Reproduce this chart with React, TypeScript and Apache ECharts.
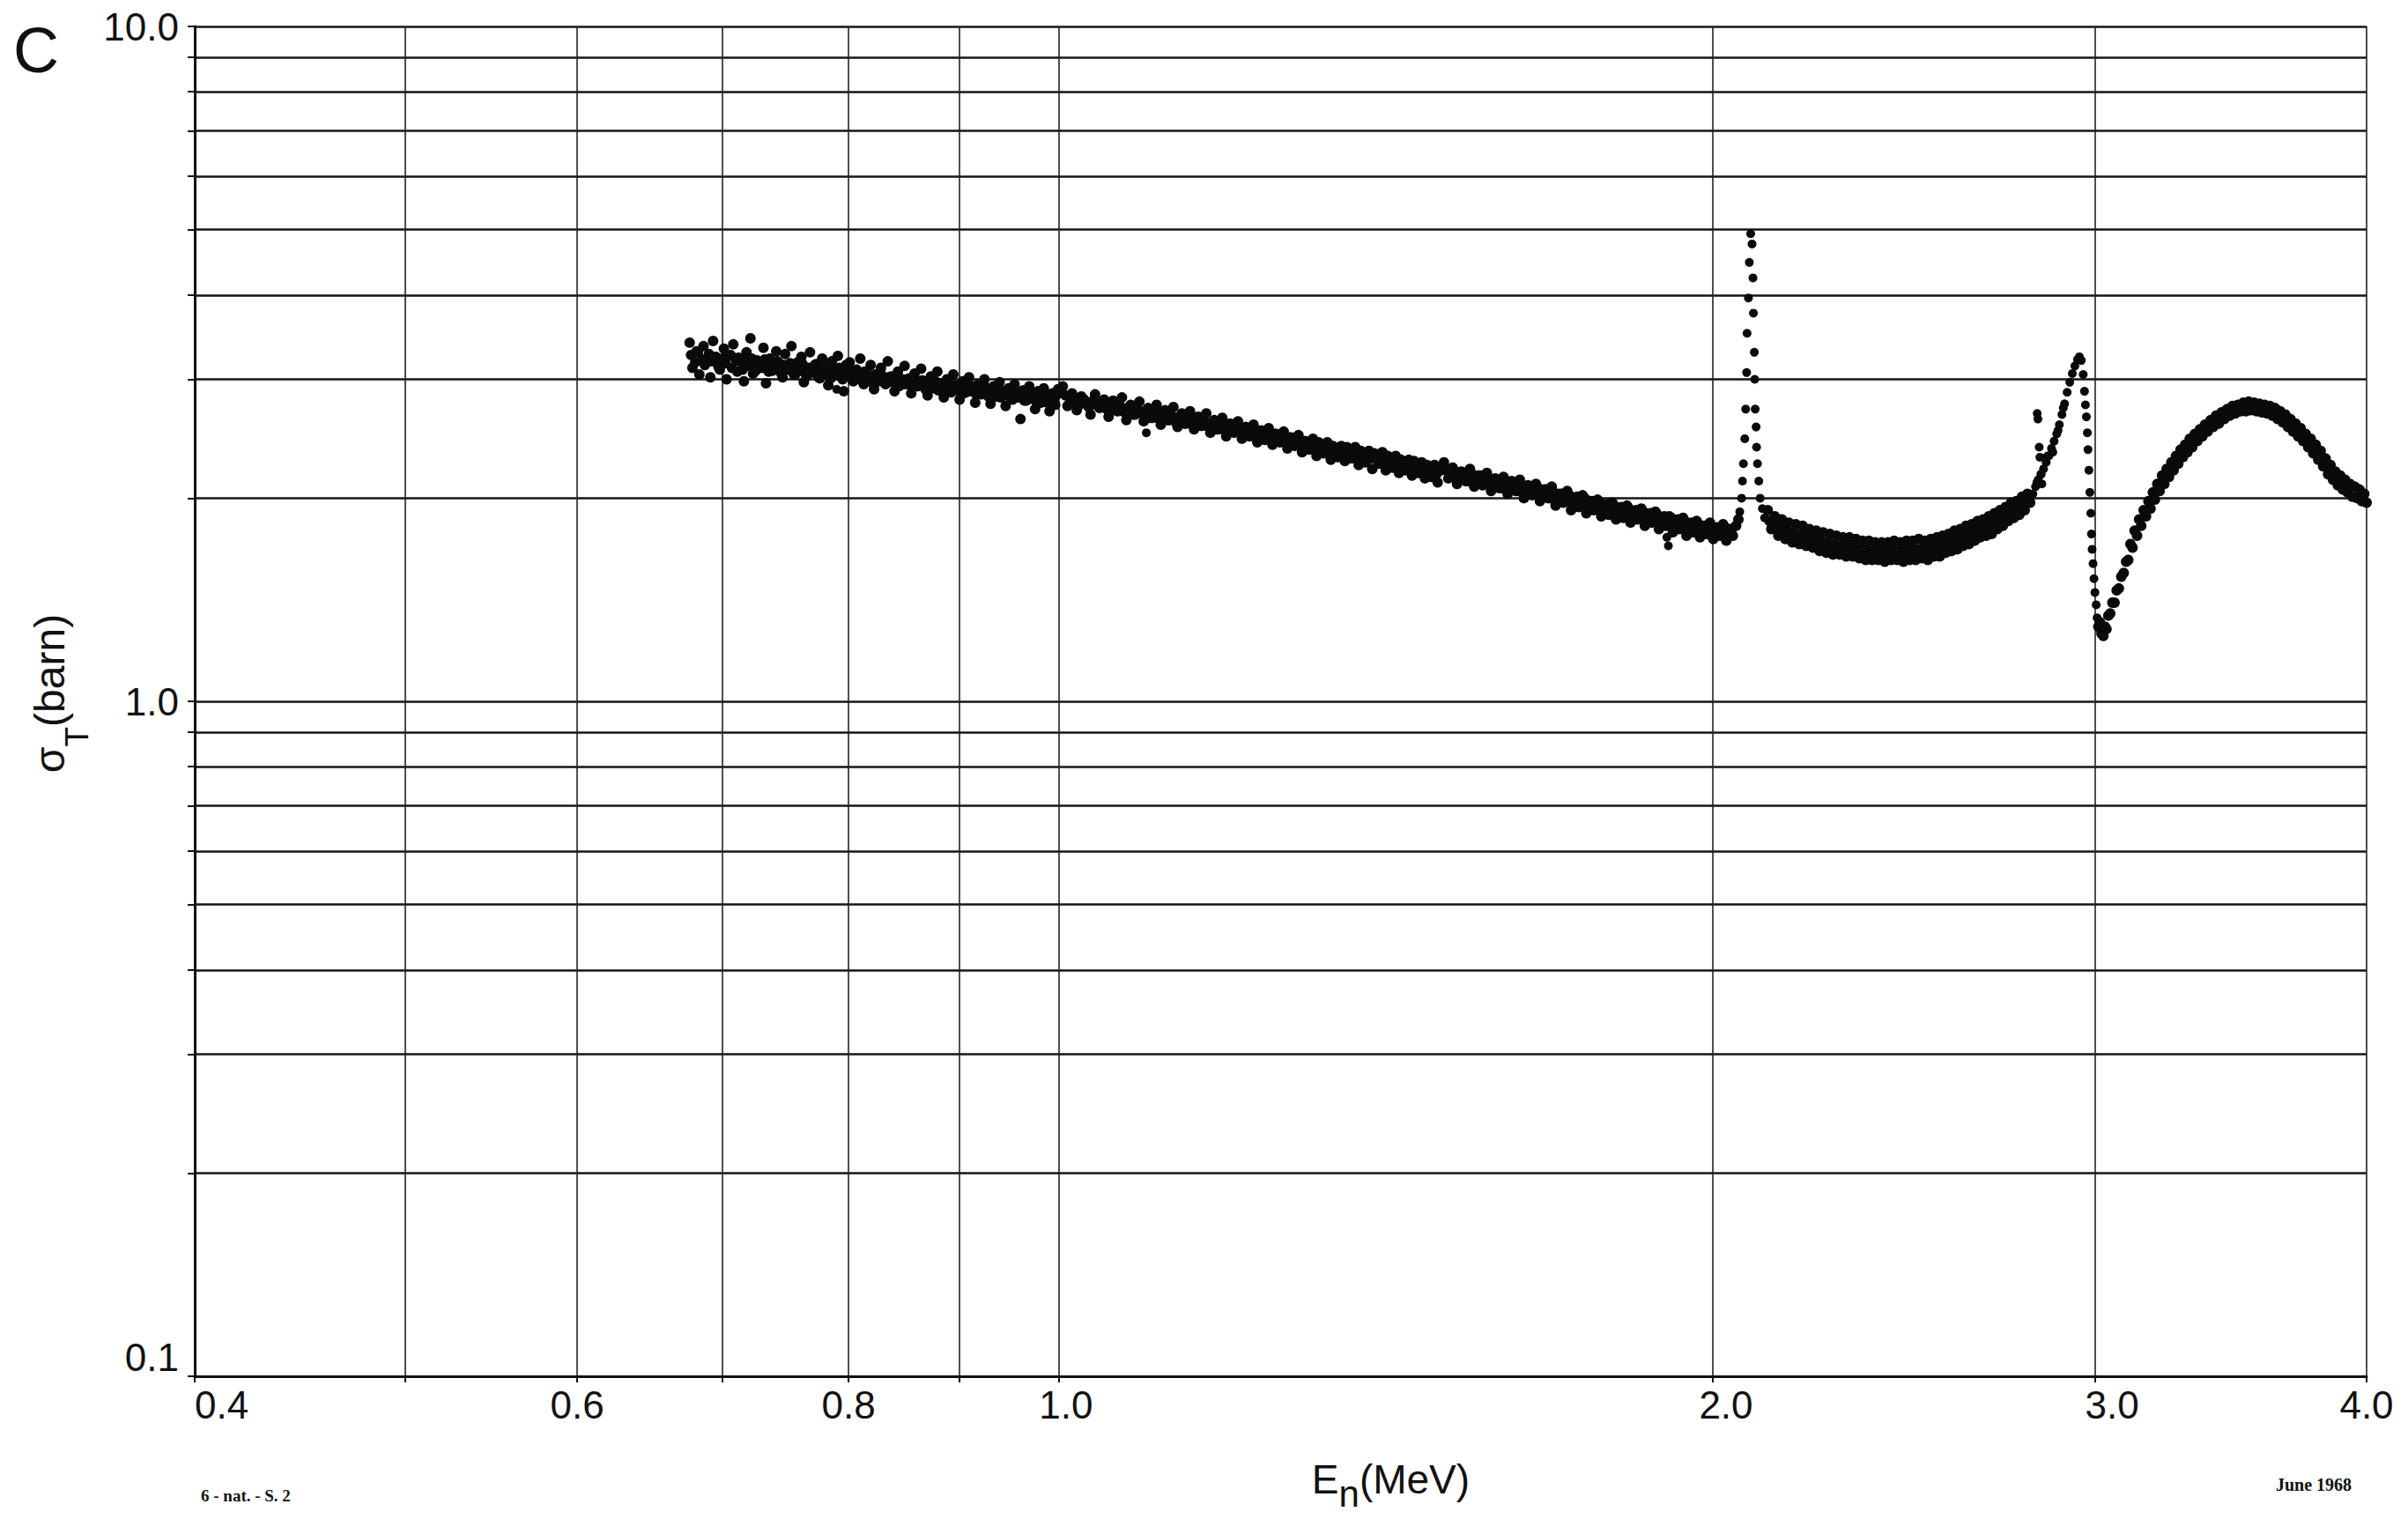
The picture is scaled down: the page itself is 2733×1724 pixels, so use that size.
import React, { useEffect, useRef } from "react";
import * as echarts from "echarts";

// ---- axis values ----
const xGridValues = [0.4, 0.5, 0.6, 0.7, 0.8, 0.9, 1, 2, 3, 4];
const xLabelValues = [0.4, 0.6, 0.8, 1, 2, 3, 4];
const yGridValues = [0.1, 0.2, 0.3, 0.4, 0.5, 0.6, 0.7, 0.8, 0.9, 1, 2, 3, 4, 5, 6, 7, 8, 9, 10];
const yLabelValues = [0.1, 1, 10];

// ---- data: E_n (MeV) and sigma_T (barn) ----
// band 0.68 - 1.0 MeV (outer points of the scattered band)
const e1 = [
  0.676, 0.678, 0.681, 0.683, 0.686, 0.688, 0.691, 0.693, 0.696, 0.698, 0.701, 0.703, 0.706, 0.708, 0.711, 0.713,
  0.716, 0.718, 0.721, 0.723, 0.726, 0.728, 0.731, 0.733, 0.736, 0.738, 0.741, 0.743, 0.746, 0.748, 0.751, 0.753,
  0.756, 0.758, 0.761, 0.763, 0.766, 0.768, 0.771, 0.773, 0.776, 0.778, 0.781, 0.783, 0.786, 0.788, 0.791, 0.793,
  0.796, 0.798, 0.801, 0.804, 0.807, 0.81, 0.813, 0.816, 0.819, 0.822, 0.825, 0.828, 0.831, 0.834, 0.837, 0.84,
  0.843, 0.846, 0.849, 0.852, 0.855, 0.858, 0.861, 0.864, 0.867, 0.87, 0.873, 0.876, 0.879, 0.882, 0.885, 0.888,
  0.891, 0.894, 0.897, 0.9, 0.903, 0.906, 0.909, 0.912, 0.915, 0.918, 0.921, 0.924, 0.927, 0.93, 0.933, 0.936,
  0.939, 0.942, 0.945, 0.948, 0.951, 0.954, 0.957, 0.96, 0.963, 0.966, 0.969, 0.972, 0.975, 0.978, 0.981, 0.984,
  0.987, 0.99, 0.993, 0.996, 0.999,
];
const s1 = [
  3.4, 3.12, 3.3, 3.05, 3.36, 3.18, 3.02, 3.42, 3.21, 3.1, 3.33, 3.0, 3.26, 3.38, 3.08, 3.19,
  2.98, 3.29, 3.45, 3.06, 3.2, 3.14, 3.34, 2.96, 3.22, 3.09, 3.3, 3.17, 3.02, 3.27, 3.13, 3.36,
  3.05, 3.18, 3.24, 2.97, 3.11, 3.29, 3.08, 3.16, 3.01, 3.22, 3.12, 2.94, 3.19, 3.06, 3.25, 3.1,
  2.88, 3.15, 3.18, 2.98, 3.1, 3.22, 2.95, 3.06, 3.15, 2.9, 3.01, 3.12, 2.97, 3.19, 3.03, 2.88,
  3.08, 2.95, 3.14, 3.0, 2.86, 3.06, 2.93, 3.11, 2.98, 2.84, 3.03, 2.91, 3.08, 2.96, 2.82, 3.0,
  2.89, 3.05, 2.93, 2.8, 2.98, 2.87, 3.02, 2.91, 2.77, 2.95, 2.85, 3.0, 2.88, 2.76, 2.93, 2.83,
  2.97, 2.86, 2.74, 2.91, 2.81, 2.95, 2.84, 2.62, 2.89, 2.79, 2.93, 2.82, 2.71, 2.88, 2.77, 2.91,
  2.8, 2.69, 2.86, 2.75, 2.9,
];
// band 0.68 - 1.0 MeV (inner points)
const e1m = [
  0.677, 0.68, 0.682, 0.685, 0.687, 0.69, 0.692, 0.695, 0.697, 0.7, 0.702, 0.705, 0.707, 0.71, 0.712, 0.715,
  0.717, 0.72, 0.722, 0.725, 0.727, 0.73, 0.732, 0.735, 0.737, 0.74, 0.742, 0.745, 0.747, 0.75, 0.752, 0.755,
  0.757, 0.76, 0.762, 0.765, 0.767, 0.77, 0.772, 0.775, 0.777, 0.78, 0.782, 0.785, 0.787, 0.79, 0.792, 0.795,
  0.797, 0.8, 0.802, 0.805, 0.808, 0.811, 0.814, 0.817, 0.82, 0.823, 0.826, 0.829, 0.832, 0.835, 0.838, 0.841,
  0.844, 0.847, 0.85, 0.853, 0.856, 0.859, 0.862, 0.865, 0.868, 0.871, 0.874, 0.877, 0.88, 0.883, 0.886, 0.889,
  0.892, 0.895, 0.898, 0.901, 0.904, 0.907, 0.91, 0.913, 0.916, 0.919, 0.922, 0.925, 0.928, 0.931, 0.934, 0.937,
  0.94, 0.943, 0.946, 0.949, 0.952, 0.955, 0.958, 0.961, 0.964, 0.967, 0.97, 0.973, 0.976, 0.979, 0.982, 0.985,
  0.988, 0.991, 0.994, 0.997,
];
const s1m = [
  3.26, 3.18, 3.29, 3.21, 3.15, 3.27, 3.19, 3.24, 3.13, 3.22, 3.17, 3.25, 3.12, 3.2, 3.23, 3.1,
  3.19, 3.14, 3.22, 3.09, 3.18, 3.12, 3.21, 3.08, 3.16, 3.11, 3.19, 3.06, 3.15, 3.1, 3.17, 3.05,
  3.13, 3.09, 3.16, 3.03, 3.12, 3.07, 3.15, 3.02, 3.11, 3.06, 3.13, 3.01, 3.09, 3.04, 3.12, 3.0,
  3.08, 3.03, 3.1, 3.02, 3.07, 2.99, 3.08, 3.01, 2.97, 3.05, 2.98, 3.04, 2.95, 3.02, 2.97, 3.03,
  2.93, 3.0, 2.95, 3.01, 2.92, 2.98, 2.94, 2.99, 2.9, 2.97, 2.92, 2.98, 2.89, 2.95, 2.91, 2.96,
  2.87, 2.94, 2.89, 2.95, 2.86, 2.92, 2.88, 2.93, 2.85, 2.91, 2.86, 2.92, 2.83, 2.89, 2.85, 2.9,
  2.82, 2.88, 2.84, 2.89, 2.8, 2.87, 2.82, 2.88, 2.79, 2.85, 2.81, 2.86, 2.78, 2.84, 2.8, 2.85,
  2.77, 2.83, 2.79, 2.84,
];
// band 1.0 - 2.05 MeV (outer points)
const e2 = [
  1.004, 1.009, 1.014, 1.019, 1.024, 1.029, 1.034, 1.039, 1.044, 1.049, 1.054, 1.059, 1.064, 1.069, 1.074, 1.079,
  1.084, 1.089, 1.094, 1.099, 1.104, 1.109, 1.114, 1.119, 1.124, 1.129, 1.134, 1.139, 1.144, 1.149, 1.154, 1.159,
  1.164, 1.169, 1.174, 1.179, 1.184, 1.189, 1.194, 1.199, 1.204, 1.209, 1.214, 1.219, 1.224, 1.229, 1.234, 1.239,
  1.244, 1.249, 1.254, 1.259, 1.264, 1.269, 1.274, 1.279, 1.284, 1.289, 1.294, 1.299, 1.304, 1.309, 1.314, 1.319,
  1.324, 1.329, 1.334, 1.339, 1.344, 1.349, 1.354, 1.359, 1.364, 1.369, 1.374, 1.379, 1.384, 1.389, 1.394, 1.399,
  1.404, 1.409, 1.414, 1.419, 1.424, 1.429, 1.434, 1.439, 1.444, 1.449, 1.454, 1.459, 1.464, 1.469, 1.474, 1.479,
  1.484, 1.489, 1.494, 1.499, 1.504, 1.511, 1.518, 1.525, 1.532, 1.539, 1.546, 1.553, 1.56, 1.567, 1.574, 1.581,
  1.588, 1.595, 1.602, 1.609, 1.616, 1.623, 1.63, 1.637, 1.644, 1.651, 1.658, 1.665, 1.672, 1.679, 1.686, 1.693,
  1.7, 1.707, 1.714, 1.721, 1.728, 1.735, 1.742, 1.749, 1.756, 1.763, 1.77, 1.777, 1.784, 1.791, 1.798, 1.805,
  1.812, 1.819, 1.826, 1.833, 1.84, 1.847, 1.854, 1.861, 1.868, 1.875, 1.882, 1.889, 1.896, 1.903, 1.91, 1.917,
  1.924, 1.931, 1.938, 1.945, 1.952, 1.959, 1.966, 1.973, 1.98, 1.987, 1.994, 2.001, 2.008, 2.015, 2.022, 2.029,
  2.036, 2.043, 2.05, 2.055,
];
const s2 = [
  2.93, 2.74, 2.86, 2.7, 2.83, 2.77, 2.66, 2.85, 2.72, 2.8, 2.64, 2.79, 2.69, 2.82, 2.61, 2.75,
  2.66, 2.78, 2.6, 2.72, 2.63, 2.75, 2.57, 2.7, 2.61, 2.73, 2.55, 2.67, 2.58, 2.69, 2.53, 2.64,
  2.56, 2.67, 2.5, 2.61, 2.53, 2.63, 2.47, 2.58, 2.5, 2.6, 2.45, 2.55, 2.47, 2.57, 2.42, 2.52,
  2.44, 2.54, 2.4, 2.49, 2.42, 2.51, 2.37, 2.46, 2.39, 2.48, 2.34, 2.43, 2.36, 2.45, 2.31, 2.4,
  2.33, 2.42, 2.28, 2.37, 2.3, 2.39, 2.27, 2.36, 2.29, 2.38, 2.24, 2.33, 2.26, 2.35, 2.21, 2.3,
  2.25, 2.34, 2.2, 2.29, 2.22, 2.31, 2.18, 2.26, 2.2, 2.28, 2.16, 2.25, 2.18, 2.26, 2.14, 2.22,
  2.15, 2.24, 2.11, 2.2, 2.26, 2.14, 2.22, 2.1, 2.19, 2.12, 2.21, 2.08, 2.16, 2.09, 2.18, 2.05,
  2.14, 2.07, 2.15, 2.03, 2.12, 2.05, 2.13, 2.0, 2.09, 2.02, 2.1, 1.98, 2.06, 2.0, 2.08, 1.95,
  2.03, 1.97, 2.05, 1.92, 2.0, 1.94, 2.02, 1.9, 1.98, 1.92, 1.99, 1.88, 1.95, 1.89, 1.97, 1.86,
  1.93, 1.87, 1.95, 1.84, 1.91, 1.86, 1.93, 1.82, 1.89, 1.84, 1.91, 1.8, 1.87, 1.82, 1.88, 1.78,
  1.85, 1.8, 1.87, 1.76, 1.83, 1.78, 1.85, 1.75, 1.82, 1.77, 1.84, 1.74, 1.81, 1.76, 1.83, 1.73,
  1.8, 1.76, 1.82, 1.86,
];
// band 1.0 - 2.05 MeV (inner points)
const e2m = [
  1.007, 1.012, 1.017, 1.022, 1.027, 1.032, 1.037, 1.042, 1.047, 1.052, 1.057, 1.062, 1.067, 1.072, 1.077, 1.082,
  1.087, 1.092, 1.097, 1.102, 1.107, 1.112, 1.117, 1.122, 1.127, 1.132, 1.137, 1.142, 1.147, 1.152, 1.157, 1.162,
  1.167, 1.172, 1.177, 1.182, 1.187, 1.192, 1.197, 1.202, 1.207, 1.212, 1.217, 1.222, 1.227, 1.232, 1.237, 1.242,
  1.247, 1.252, 1.257, 1.262, 1.267, 1.272, 1.277, 1.282, 1.287, 1.292, 1.297, 1.302, 1.307, 1.312, 1.317, 1.322,
  1.327, 1.332, 1.337, 1.342, 1.347, 1.352, 1.357, 1.362, 1.367, 1.372, 1.377, 1.382, 1.387, 1.392, 1.397, 1.402,
  1.407, 1.412, 1.417, 1.422, 1.427, 1.432, 1.437, 1.442, 1.447, 1.452, 1.457, 1.462, 1.467, 1.472, 1.477, 1.482,
  1.487, 1.492, 1.497, 1.508, 1.515, 1.522, 1.529, 1.536, 1.543, 1.55, 1.557, 1.564, 1.571, 1.578, 1.585, 1.592,
  1.599, 1.606, 1.613, 1.62, 1.627, 1.634, 1.641, 1.648, 1.655, 1.662, 1.669, 1.676, 1.683, 1.69, 1.697, 1.704,
  1.711, 1.718, 1.725, 1.732, 1.739, 1.746, 1.753, 1.76, 1.767, 1.774, 1.781, 1.788, 1.795, 1.802, 1.809, 1.816,
  1.823, 1.83, 1.837, 1.844, 1.851, 1.858, 1.865, 1.872, 1.879, 1.886, 1.893, 1.9, 1.907, 1.914, 1.921, 1.928,
  1.935, 1.942, 1.949, 1.956, 1.963, 1.97, 1.977, 1.984, 1.991, 1.998, 2.005, 2.012, 2.019, 2.026, 2.033, 2.04,
];
const s2m = [
  2.84, 2.77, 2.82, 2.75, 2.8, 2.73, 2.79, 2.74, 2.78, 2.71, 2.76, 2.7, 2.74, 2.68, 2.73, 2.66,
  2.71, 2.67, 2.7, 2.63, 2.69, 2.62, 2.67, 2.61, 2.65, 2.59, 2.64, 2.58, 2.63, 2.57, 2.62, 2.56,
  2.6, 2.55, 2.59, 2.53, 2.57, 2.52, 2.56, 2.51, 2.56, 2.5, 2.54, 2.48, 2.53, 2.47, 2.51, 2.46,
  2.5, 2.45, 2.49, 2.44, 2.48, 2.42, 2.46, 2.4, 2.45, 2.39, 2.43, 2.38, 2.43, 2.38, 2.42, 2.36,
  2.4, 2.35, 2.39, 2.34, 2.38, 2.33, 2.38, 2.33, 2.37, 2.31, 2.35, 2.3, 2.34, 2.29, 2.33, 2.28,
  2.33, 2.27, 2.31, 2.26, 2.3, 2.24, 2.28, 2.23, 2.27, 2.22, 2.27, 2.21, 2.25, 2.2, 2.24, 2.18,
  2.22, 2.17, 2.21, 2.2, 2.15, 2.19, 2.13, 2.18, 2.12, 2.17, 2.11, 2.16, 2.1, 2.14, 2.09, 2.13,
  2.07, 2.12, 2.06, 2.1, 2.05, 2.09, 2.04, 2.08, 2.03, 2.07, 2.01, 2.06, 2.0, 2.04, 1.99, 2.03,
  1.98, 2.02, 1.97, 2.01, 1.96, 2.0, 1.94, 1.98, 1.93, 1.97, 1.92, 1.96, 1.92, 1.95, 1.9, 1.94,
  1.89, 1.93, 1.88, 1.92, 1.87, 1.91, 1.87, 1.9, 1.85, 1.89, 1.84, 1.88, 1.83, 1.87, 1.82, 1.86,
  1.82, 1.85, 1.8, 1.84, 1.79, 1.83, 1.78, 1.82, 1.77, 1.81, 1.77, 1.8, 1.76, 1.81, 1.77, 1.8,
];
// narrow resonance near 2.08 MeV
const ePeak1 = [
  2.058, 2.062, 2.064, 2.066, 2.069, 2.071, 2.073, 2.074, 2.077, 2.079, 2.082, 2.085, 2.087, 2.088, 2.09, 2.091,
  2.092, 2.094, 2.095, 2.097, 2.1, 2.103, 2.108, 2.113,
];
const sPeak1 = [
  1.91, 2.0, 2.12, 2.25, 2.45, 2.71, 3.07, 3.51, 3.96, 4.47, 4.93, 4.76, 4.24, 3.76, 3.29, 3.0,
  2.71, 2.55, 2.38, 2.25, 2.12, 2.0, 1.93, 1.87,
];
// valley 2.12 - 2.80 MeV (outer points)
const eValley = [
  2.12, 2.128, 2.136, 2.144, 2.152, 2.16, 2.168, 2.176, 2.184, 2.192, 2.2, 2.208, 2.216, 2.224, 2.232, 2.24,
  2.248, 2.256, 2.264, 2.272, 2.28, 2.288, 2.296, 2.304, 2.312, 2.32, 2.328, 2.336, 2.344, 2.352, 2.36, 2.368,
  2.376, 2.384, 2.392, 2.4, 2.408, 2.416, 2.424, 2.432, 2.44, 2.448, 2.456, 2.464, 2.472, 2.48, 2.488, 2.496,
  2.504, 2.512, 2.52, 2.528, 2.536, 2.544, 2.552, 2.56, 2.568, 2.576, 2.584, 2.592, 2.6, 2.608, 2.616, 2.624,
  2.632, 2.64, 2.648, 2.656, 2.664, 2.672, 2.68, 2.688, 2.696, 2.704, 2.712, 2.72, 2.728, 2.736, 2.744, 2.752,
  2.76, 2.768, 2.776, 2.784, 2.792, 2.8,
];
const sValley = [
  1.92, 1.8, 1.88, 1.76, 1.86, 1.74, 1.84, 1.72, 1.83, 1.71, 1.82, 1.7, 1.8, 1.69, 1.79, 1.67,
  1.78, 1.66, 1.77, 1.65, 1.76, 1.65, 1.75, 1.64, 1.75, 1.64, 1.74, 1.63, 1.73, 1.62, 1.73, 1.62,
  1.72, 1.62, 1.72, 1.61, 1.72, 1.62, 1.73, 1.62, 1.72, 1.61, 1.73, 1.62, 1.73, 1.62, 1.74, 1.63,
  1.73, 1.62, 1.74, 1.64, 1.75, 1.64, 1.76, 1.66, 1.77, 1.67, 1.79, 1.68, 1.8, 1.7, 1.82, 1.71,
  1.83, 1.73, 1.85, 1.75, 1.86, 1.76, 1.88, 1.77, 1.9, 1.8, 1.92, 1.82, 1.94, 1.85, 1.97, 1.87,
  1.98, 1.89, 2.01, 1.92, 2.03, 1.97,
];
// valley 2.12 - 2.80 MeV (inner points)
const eValleyM = [
  2.124, 2.132, 2.14, 2.148, 2.156, 2.164, 2.172, 2.18, 2.188, 2.196, 2.204, 2.212, 2.22, 2.228, 2.236, 2.244,
  2.252, 2.26, 2.268, 2.276, 2.284, 2.292, 2.3, 2.308, 2.316, 2.324, 2.332, 2.34, 2.348, 2.356, 2.364, 2.372,
  2.38, 2.388, 2.396, 2.404, 2.412, 2.42, 2.428, 2.436, 2.444, 2.452, 2.46, 2.468, 2.476, 2.484, 2.492, 2.5,
  2.508, 2.516, 2.524, 2.532, 2.54, 2.548, 2.556, 2.564, 2.572, 2.58, 2.588, 2.596, 2.604, 2.612, 2.62, 2.628,
  2.636, 2.644, 2.652, 2.66, 2.668, 2.676, 2.684, 2.692, 2.7, 2.708, 2.716, 2.724, 2.732, 2.74, 2.748, 2.756,
  2.764, 2.772, 2.78, 2.788, 2.796,
];
const sValleyM = [
  1.85, 1.84, 1.82, 1.81, 1.79, 1.79, 1.77, 1.78, 1.76, 1.77, 1.75, 1.76, 1.74, 1.74, 1.72, 1.73,
  1.71, 1.72, 1.7, 1.71, 1.69, 1.7, 1.69, 1.7, 1.68, 1.69, 1.67, 1.68, 1.67, 1.68, 1.66, 1.67,
  1.66, 1.68, 1.66, 1.67, 1.66, 1.68, 1.66, 1.67, 1.66, 1.68, 1.66, 1.68, 1.67, 1.68, 1.67, 1.69,
  1.67, 1.69, 1.68, 1.7, 1.69, 1.71, 1.7, 1.72, 1.71, 1.73, 1.73, 1.75, 1.74, 1.76, 1.76, 1.78,
  1.77, 1.79, 1.79, 1.81, 1.81, 1.83, 1.82, 1.84, 1.85, 1.86, 1.87, 1.88, 1.9, 1.91, 1.92, 1.93,
  1.94, 1.95, 1.97, 1.98, 2.0,
];
// resonance near 2.95 MeV: rise and sharp drop
const ePeak2 = [
  2.808, 2.816, 2.82, 2.824, 2.832, 2.84, 2.848, 2.852, 2.856, 2.864, 2.868, 2.872, 2.88, 2.884, 2.888, 2.896,
  2.9, 2.904, 2.912, 2.92, 2.928, 2.936, 2.944, 2.95, 2.956, 2.962, 2.966, 2.969, 2.972, 2.975, 2.977, 2.98,
  2.983, 2.986, 2.988, 2.99, 2.993, 2.996, 2.999, 3.003, 3.006,
];
const sPeak2 = [
  2.03, 2.08, 2.11, 2.13, 2.17, 2.21, 2.26, 2.31, 2.31, 2.37, 2.34, 2.43, 2.49, 2.52, 2.57, 2.66,
  2.72, 2.76, 2.87, 2.97, 3.06, 3.14, 3.21, 3.24, 3.2, 3.05, 2.88, 2.75, 2.64, 2.5, 2.36, 2.2,
  2.04, 1.9, 1.77, 1.68, 1.6, 1.52, 1.45, 1.39, 1.33,
];
// broad structure 3.0 - 4.0 MeV
const eHump = [
  3.01, 3.015, 3.02, 3.026, 3.031, 3.036, 3.042, 3.048, 3.055, 3.062, 3.069, 3.076, 3.084, 3.092, 3.1, 3.107,
  3.114, 3.121, 3.128, 3.136, 3.143, 3.15, 3.158, 3.166, 3.174, 3.181, 3.189, 3.196, 3.204, 3.212, 3.22, 3.228,
  3.236, 3.244, 3.252, 3.26, 3.268, 3.276, 3.284, 3.292, 3.3, 3.308, 3.316, 3.325, 3.334, 3.343, 3.352, 3.361,
  3.37, 3.38, 3.39, 3.4, 3.41, 3.42, 3.43, 3.44, 3.45, 3.46, 3.47, 3.48, 3.49, 3.5, 3.51, 3.52,
  3.53, 3.54, 3.55, 3.56, 3.57, 3.58, 3.59, 3.6, 3.61, 3.62, 3.63, 3.64, 3.65, 3.66, 3.67, 3.68,
  3.69, 3.7, 3.71, 3.72, 3.73, 3.74, 3.75, 3.76, 3.77, 3.78, 3.79, 3.8, 3.81, 3.82, 3.83, 3.84,
  3.85, 3.86, 3.87, 3.88, 3.89, 3.9, 3.91, 3.92, 3.93, 3.94, 3.95, 3.96, 3.97, 3.98, 3.99, 4.0,
];
const sHump = [
  1.29, 1.31, 1.26, 1.25, 1.29, 1.28, 1.34, 1.35, 1.4, 1.4, 1.46, 1.47, 1.53, 1.55, 1.61, 1.62,
  1.71, 1.69, 1.79, 1.76, 1.86, 1.82, 1.92, 1.88, 1.98, 1.93, 2.04, 1.99, 2.1, 2.05, 2.16, 2.1,
  2.21, 2.15, 2.26, 2.2, 2.31, 2.25, 2.36, 2.3, 2.4, 2.34, 2.45, 2.38, 2.49, 2.43, 2.53, 2.47,
  2.57, 2.51, 2.61, 2.55, 2.65, 2.58, 2.68, 2.62, 2.71, 2.65, 2.74, 2.67, 2.75, 2.69, 2.77, 2.69,
  2.78, 2.7, 2.77, 2.69, 2.76, 2.68, 2.75, 2.67, 2.74, 2.65, 2.72, 2.62, 2.69, 2.59, 2.66, 2.55,
  2.62, 2.51, 2.58, 2.47, 2.54, 2.43, 2.49, 2.38, 2.45, 2.33, 2.4, 2.28, 2.35, 2.23, 2.29, 2.17,
  2.24, 2.13, 2.19, 2.09, 2.16, 2.06, 2.13, 2.04, 2.1, 2.01, 2.08, 2.0, 2.06, 1.98, 2.03, 1.97,
];
// scattered points off the main band
const eStray = [0.79, 1.097, 1.905, 1.908, 2.821, 2.823, 2.827, 2.829, 2.833, 2.835];
const sStray = [2.9, 2.5, 1.75, 1.7, 2.67, 2.62, 2.38, 2.3, 2.17, 2.1];

const zip = (e: number[], s: number[]) => e.map((v, i) => [v, s[i]]);

const FONT = '"Liberation Sans", Arial, Helvetica, sans-serif';
const INK = "#111111";

// x tick labels sit slightly right of their grid lines on the original sheet
const xLabelKey = (v: number) => {
  const r = Math.round(v * 10) / 10;
  if (r === 1) return "b";
  if (r === 2) return "c";
  if (r === 3) return "d";
  return "a";
};
const xTickRich = {
  a: { fontFamily: FONT, fontSize: 44, color: INK },
  b: { fontFamily: FONT, fontSize: 44, color: INK, padding: [0, 0, 0, 16] },
  c: { fontFamily: FONT, fontSize: 44, color: INK, padding: [0, 0, 0, 30] },
  d: { fontFamily: FONT, fontSize: 44, color: INK, padding: [0, 0, 0, 38] },
};

const option: any = {
  animation: false,
  backgroundColor: "#ffffff",
  grid: { left: 221, right: 47, top: 30, bottom: 162, containLabel: false },
  xAxis: {
    type: "log",
    logBase: 10,
    min: 0.4,
    max: 4,
    name: "{e|E}{n|n}{e|(MeV)}",
    nameLocation: "middle",
    nameGap: 94,
    nameTextStyle: {
      padding: [0, 0, 0, 250],
      rich: {
        e: { fontFamily: FONT, fontSize: 46, color: INK, verticalAlign: "top" },
        n: { fontFamily: FONT, fontSize: 42, color: INK, verticalAlign: "top", padding: [18, 0, 0, 0] },
      },
    },
    axisLine: { show: true, onZero: false, lineStyle: { color: INK, width: 3 } },
    axisTick: { show: true, inside: false, length: 7, customValues: xGridValues, lineStyle: { color: INK, width: 2 } },
    axisLabel: {
      show: true,
      customValues: xLabelValues,
      formatter: (v: number) => `{${xLabelKey(Number(v))}|${Number(v).toFixed(1)}}`,
      rich: xTickRich,
      fontFamily: FONT,
      fontSize: 44,
      color: INK,
      margin: 10,
      alignMinLabel: "left",
    },
    splitLine: { show: true, lineStyle: { color: "#222222", width: 1.6 } },
    minorTick: { show: false },
    minorSplitLine: { show: false },
  },
  yAxis: {
    type: "log",
    logBase: 10,
    min: 0.1,
    max: 10,
    name: "{s|σ}{t|T}{s|(barn)}",
    nameLocation: "middle",
    nameGap: 78,
    nameRotate: 90,
    nameTextStyle: {
      padding: [0, 0, 0, 18],
      rich: {
        s: { fontFamily: FONT, fontSize: 48, color: INK, verticalAlign: "top" },
        t: { fontFamily: FONT, fontSize: 37, color: INK, verticalAlign: "top", padding: [37, 0, 0, 0] },
      },
    },
    axisLine: { show: true, onZero: false, lineStyle: { color: INK, width: 3 } },
    axisTick: { show: true, inside: false, length: 8, customValues: yGridValues, lineStyle: { color: INK, width: 2 } },
    axisLabel: {
      show: true,
      customValues: yLabelValues,
      formatter: (v: number) => Number(v).toFixed(1),
      fontFamily: FONT,
      fontSize: 44,
      color: INK,
      margin: 18,
      verticalAlignMinLabel: "bottom",
    },
    splitLine: { show: true, lineStyle: { color: "#161616", width: 2.6 } },
    minorTick: { show: false },
    minorSplitLine: { show: false },
  },
  graphic: [
    { type: "text", left: 15, top: 21, style: { text: "C", font: `72px ${FONT}`, fill: INK } },
    { type: "text", left: 228, top: 1688, style: { text: "6 - nat. - S. 2", font: 'bold 19px "Liberation Serif", serif', fill: INK } },
    { type: "text", left: 2583, top: 1675, style: { text: "June 1968", font: 'bold 20px "Liberation Serif", serif', fill: INK } },
  ],
  series: [
    {
      name: "band",
      type: "scatter",
      symbol: "circle",
      symbolSize: 12,
      itemStyle: { color: "#0a0a0a", opacity: 1 },
      emphasis: { disabled: true },
      data: [
        ...zip(e1, s1),
        ...zip(e1m, s1m),
        ...zip(e2, s2),
        ...zip(e2m, s2m),
        ...zip(eValley, sValley),
        ...zip(eValleyM, sValleyM),
        ...zip(eHump, sHump),
      ],
    },
    {
      name: "resonances",
      type: "scatter",
      symbol: "circle",
      symbolSize: 10,
      itemStyle: { color: "#0a0a0a", opacity: 1 },
      emphasis: { disabled: true },
      data: [...zip(ePeak1, sPeak1), ...zip(ePeak2, sPeak2), ...zip(eStray, sStray)],
    },
  ],
};

export default function App() {
  const ref = useRef<HTMLDivElement>(null);
  useEffect(() => {
    if (!ref.current) return;
    const chart = echarts.init(ref.current, null, { renderer: "svg" });
    chart.setOption(option);
    return () => chart.dispose();
  }, []);
  return (
    <div
      ref={ref}
      style={{ position: "fixed", left: 0, top: 0, width: 2733, height: 1724, background: "#ffffff" }}
    />
  );
}
